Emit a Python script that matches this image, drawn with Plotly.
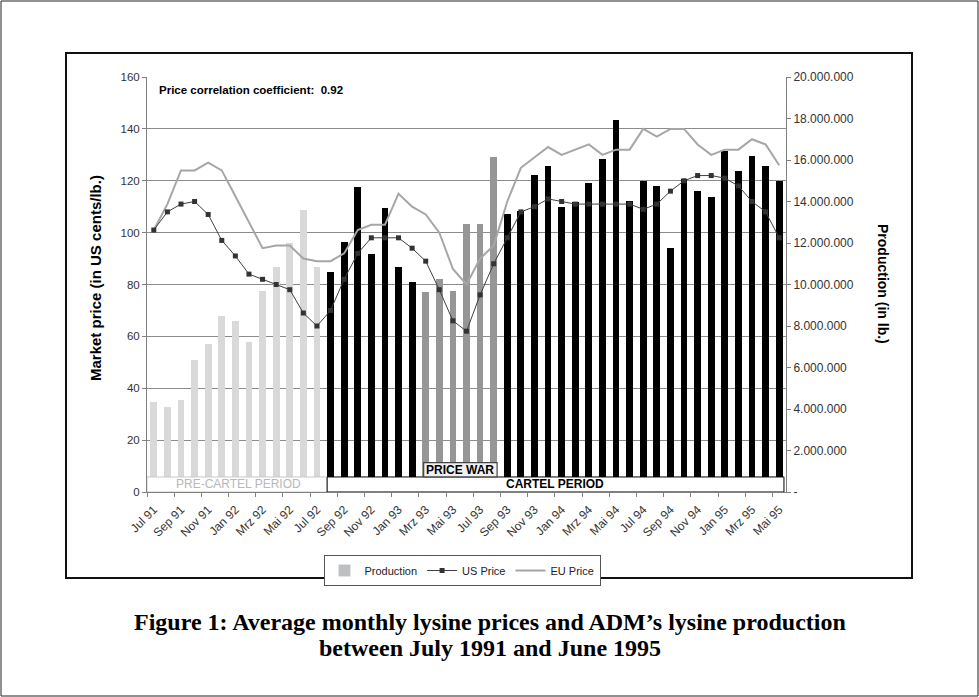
import plotly.graph_objects as go

months = ["Jul 91", "Aug 91", "Sep 91", "Okt 91", "Nov 91", "Dez 91",
          "Jan 92", "Feb 92", "Mrz 92", "Apr 92", "Mai 92", "Jun 92",
          "Jul 92", "Aug 92", "Sep 92", "Okt 92", "Nov 92", "Dez 92",
          "Jan 93", "Feb 93", "Mrz 93", "Apr 93", "Mai 93", "Jun 93",
          "Jul 93", "Aug 93", "Sep 93", "Okt 93", "Nov 93", "Dez 93",
          "Jan 94", "Feb 94", "Mrz 94", "Apr 94", "Mai 94", "Jun 94",
          "Jul 94", "Aug 94", "Sep 94", "Okt 94", "Nov 94", "Dez 94",
          "Jan 95", "Feb 95", "Mrz 95", "Apr 95", "Mai 95"]

periods = (["pre"] * 13 + ["cartel"] * 7 + ["war"] * 6 + ["cartel"] * 21)

production = [4340000, 4075000, 4425000, 6360000, 7125000, 8490000,
              8250000, 7210000, 9700000, 10840000, 11990000, 13575000,
              10840000, 10625000, 12025000, 14675000, 11490000, 13675000,
              10840000, 10100000, 9640000, 10260000, 9710000, 12910000,
              12910000, 16125000, 13375000, 13560000, 15300000, 15725000,
              13740000, 13990000, 14875000, 16040000, 17950000, 14040000,
              15000000, 14725000, 11775000, 15100000, 14500000, 14200000,
              16425000, 15460000, 16190000, 15725000, 15000000]

us_price = [101, 108, 111, 112, 107, 97, 91, 84, 82, 80, 78, 69,
            64, 70, 82, 92, 98, 98, 98, 94, 89, 78, 66, 62,
            76, 88, 98, 108, 110, 113, 112, 111, 111, 111, 111, 111,
            109, 111, 116, 120, 122, 122, 121, 118, 112, 108, 98]

eu_price = [101, 111, 124, 124, 127, 124, 114, 104, 94, 95, 95, 90,
            89, 89, 92, 101, 103, 103, 115, 110, 107, 100, 86, 80,
            90, 95, 112, 125, 129, 133, 130, 132, 134, 130, 132, 132,
            140, 137, 140, 140, 134, 130, 132, 132, 136, 134, 126]

right_ticks = [0, 2000000, 4000000, 6000000, 8000000, 10000000,
               12000000, 14000000, 16000000, 18000000, 20000000]

period_colors = {"pre": "#d9d9d9", "cartel": "#000000", "war": "#969696"}

idx = list(range(len(months)))
FONT = "Liberation Sans, Arial, sans-serif"
SERIF = "Liberation Serif, Times New Roman, serif"

fig = go.Figure()

fig.add_trace(go.Bar(
    x=idx, y=production, yaxis="y2", width=0.5,
    marker=dict(color=[period_colors[p] for p in periods], line=dict(width=0)),
    showlegend=False, name="Production"))

fig.add_trace(go.Bar(
    x=[None], y=[None], yaxis="y2", name="Production",
    marker=dict(color="#bfbfbf"), legendrank=1))

fig.add_trace(go.Scatter(
    x=idx, y=eu_price, yaxis="y", mode="lines", name="EU Price",
    line=dict(color="#a6a6a6", width=2), legendrank=3))

fig.add_trace(go.Scatter(
    x=idx, y=us_price, yaxis="y", mode="lines+markers", name="US Price",
    line=dict(color="#404040", width=1),
    marker=dict(symbol="square", size=5, color="#333333"), legendrank=2))


def px_x(p):
    return (p - 147) / 639.0


def px_y(p):
    return (492 - p) / 415.0


shapes = []
shapes.append(dict(type="rect", xref="x", yref="y", x0=-0.5, x1=12.75, y0=0, y1=5.8,
                   fillcolor="white", line=dict(color="#c8c8c8", width=1), layer="above"))
shapes.append(dict(type="rect", xref="x", yref="y", x0=12.75, x1=46.35, y0=0, y1=5.8,
                   fillcolor="white", line=dict(color="#000000", width=1), layer="above"))
shapes.append(dict(type="rect", xref="x", yref="y", x0=19.85, x1=25.25, y0=5.8, y1=11.3,
                   fillcolor="#f0f0f0", line=dict(color="#444444", width=1.2), layer="above"))
shapes.append(dict(type="rect", xref="paper", yref="paper",
                   x0=px_x(66), x1=px_x(912), y0=px_y(578), y1=px_y(53),
                   line=dict(color="#111111", width=2), layer="below"))
shapes.append(dict(type="rect", xref="paper", yref="paper",
                   x0=px_x(1), x1=px_x(978), y0=px_y(696), y1=px_y(1),
                   line=dict(color="#222222", width=1), layer="below"))

annotations = [
    dict(text="PRE-CARTEL PERIOD", x=6.2, y=2.9, xref="x", yref="y", showarrow=False,
         yanchor="middle", font=dict(family=FONT, size=12, color="#b8b8b8")),
    dict(text="<b>CARTEL PERIOD</b>", x=29.5, y=2.9, xref="x", yref="y", showarrow=False,
         yanchor="middle", font=dict(family=FONT, size=12, color="#000000")),
    dict(text="<b>PRICE WAR</b>", x=22.55, y=8.55, xref="x", yref="y", showarrow=False,
         yanchor="middle", font=dict(family=FONT, size=12, color="#000000")),
    dict(text="<b>Price correlation coefficient:  0.92</b>", x=px_x(157), y=px_y(90),
         xref="paper", yref="paper", xanchor="left", yanchor="middle", showarrow=False,
         font=dict(family=FONT, size=11.5, color="#000000")),
    dict(text="<b>Market price (in US cents/lb.)</b>", x=px_x(95), y=px_y(278),
         xref="paper", yref="paper", textangle=-90, showarrow=False,
         xanchor="center", yanchor="middle",
         font=dict(family=FONT, size=15, color="#000000")),
    dict(text="<b>Production (in lb.)</b>", x=px_x(883), y=px_y(284),
         xref="paper", yref="paper", textangle=90, showarrow=False,
         xanchor="center", yanchor="middle",
         font=dict(family=FONT, size=14, color="#000000")),
    dict(text="<b>Figure 1: Average monthly lysine prices and ADM\u2019s lysine production</b>",
         x=px_x(490), y=px_y(622), xref="paper", yref="paper", showarrow=False,
         xanchor="center", yanchor="middle",
         font=dict(family=SERIF, size=24, color="#000000")),
    dict(text="<b>between July 1991 and June 1995</b>",
         x=px_x(490), y=px_y(648), xref="paper", yref="paper", showarrow=False,
         xanchor="center", yanchor="middle",
         font=dict(family=SERIF, size=24, color="#000000")),
]

fig.update_layout(
    width=979, height=697,
    margin=dict(l=147, r=193, t=77, b=205, autoexpand=False),
    paper_bgcolor="white", plot_bgcolor="white",
    font=dict(family=FONT, size=11.5, color="#333333"),
    bargap=0, barmode="overlay",
    showlegend=True,
    legend=dict(orientation="h", x=px_x(462), y=px_y(555), xanchor="center", yanchor="top",
                bordercolor="#555555", borderwidth=1, bgcolor="white",
                font=dict(family=FONT, size=11, color="#222222"),
                itemwidth=30, tracegroupgap=0),
    xaxis=dict(range=[-0.5, 46.5], tickmode="array", tickvals=idx[::2], ticktext=months[::2],
               tickangle=-45, ticks="", showgrid=False, showline=True,
               linecolor="#808080", linewidth=1, zeroline=False, ticklabelstandoff=5,
               tickfont=dict(family=FONT, size=12, color="#333333"),
               minor=dict(tickmode="linear", tick0=-0.5, dtick=2, ticks="outside",
                          ticklen=4, tickcolor="#808080", showgrid=False)),
    yaxis=dict(range=[0, 160], dtick=20, side="left", overlaying="y2", anchor="x",
               showgrid=True, gridcolor="#8c8c8c", gridwidth=1,
               showline=True, linecolor="#808080", ticks="outside", ticklen=4,
               tickcolor="#808080", zeroline=False,
               tickfont=dict(family=FONT, size=11.5, color="#333333")),
    yaxis2=dict(range=[0, 20000000], side="right", anchor="x", tickmode="array",
                tickvals=right_ticks,
                ticktext=["-" if v == 0 else f"{v:,}".replace(",", ".") for v in right_ticks],
                showgrid=False, showline=True, linecolor="#808080", ticks="outside",
                ticklen=4, tickcolor="#808080", zeroline=False,
                tickfont=dict(family=FONT, size=12, color="#333333")),
    shapes=shapes,
    annotations=annotations,
)

fig.write_html("out.html", config={"displayModeBar": False},
               post_script="document.body.style.margin='0';")
